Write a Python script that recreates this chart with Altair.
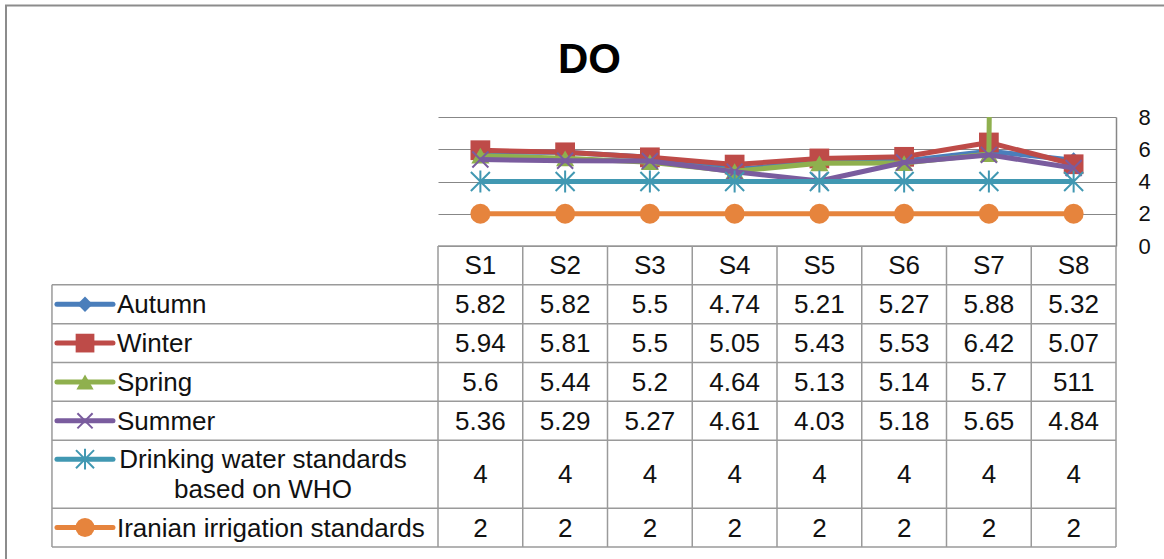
import altair as alt
import pandas as pd

# ---- data ----
sites = ["S1", "S2", "S3", "S4", "S5", "S6", "S7", "S8"]
autumn = [5.82, 5.82, 5.5, 4.74, 5.21, 5.27, 5.88, 5.32]
winter = [5.94, 5.81, 5.5, 5.05, 5.43, 5.53, 6.42, 5.07]
spring = [5.6, 5.44, 5.2, 4.64, 5.13, 5.14, 5.7, 511]
summer = [5.36, 5.29, 5.27, 4.61, 4.03, 5.18, 5.65, 4.84]
who_drinking = [4, 4, 4, 4, 4, 4, 4, 4]
iran_irrigation = [2, 2, 2, 2, 2, 2, 2, 2]
y_ticks = [0, 2, 4, 6, 8]

series_keys = ["autumn", "winter", "spring", "summer", "who", "iran"]
series_labels = ["Autumn", "Winter", "Spring", "Summer",
                 "Drinking water standards\nbased on WHO",
                 "Iranian irrigation standards"]
series_values = [autumn, winter, spring, summer, who_drinking, iran_irrigation]

# ---- styling ----
FONT = "Liberation Sans, Arial, sans-serif"
TABLE_FONT_SIZE = 26
AXIS_FONT_SIZE = 22
LINE_HEIGHT = 30
X_SHAPE = "M-1,-1L1,1M-1,1L1,-1"
STAR_SHAPE = "M-1,-1L1,1M-1,1L1,-1M0,-1.15L0,1.15"
styles = {
    "autumn": dict(color="#4A7EBB", shape="diamond", filled=True, size=260, sw=1),
    "winter": dict(color="#BE4B48", shape="square", filled=True, size=390, sw=1),
    "spring": dict(color="#8FB04E", shape="triangle-up", filled=True, size=330, sw=1),
    "summer": dict(color="#7A5C9E", shape=X_SHAPE, filled=False, size=256, sw=2),
    "who":    dict(color="#4198B2", shape=STAR_SHAPE, filled=False, size=361, sw=2),
    "iran":   dict(color="#E6843D", shape="circle", filled=True, size=400, sw=1),
}
LEGEND_SCALE = 0.9
GRID = "#878787"
TABLE_LINE = "#9a9a9a"

# plot area (in px) and column units
W, H = 678, 129
TABLE_BOTTOM = 430
n_cols = len(sites)

# table rows: header + one per series (relative heights)
row_heights = [1, 1, 1, 1, 1, 1.75, 1]
row_tops = [sum(row_heights[:i]) for i in range(len(row_heights))]
table_total = sum(row_heights)
px_per_row = (TABLE_BOTTOM - H) / table_total
legend_left = -4.555          # left edge of the label column, in column units
sym_x1, sym_x2, sym_xm = -4.496, -3.835, -4.165
label_x = -3.788
label_center_x = -2.065

x_scale = alt.Scale(domain=[0, n_cols], nice=False, zero=False)
y_scale = alt.Scale(domain=[0, 8], nice=False, zero=False)
ty_scale = alt.Scale(domain=[0, table_total], range=[H, TABLE_BOTTOM], nice=False, zero=False)

# ---- long table of the plotted values ----
rows = []
for key, vals in zip(series_keys, series_values):
    for i, v in enumerate(vals):
        rows.append({"key": key, "x": i + 0.5, "value": v})
values_df = pd.DataFrame(rows)

# ---- line chart layers (series drawn in order, markers with each) ----
x_enc = alt.X("x:Q", scale=x_scale, axis=None)
y_enc = alt.Y(
    "value:Q", scale=y_scale,
    axis=alt.Axis(orient="right", values=y_ticks, grid=True, gridColor=GRID,
                  gridWidth=1.2, domainColor=GRID, domainWidth=1.5, ticks=False,
                  labelPadding=22, labelFontSize=AXIS_FONT_SIZE, labelFont=FONT,
                  labelColor="#111", title=None),
)
line_layers = []
for key in series_keys:
    st = styles[key]
    base = alt.Chart(values_df).transform_filter(alt.datum.key == key)
    line_layers.append(
        base.mark_line(clip=True, strokeWidth=5, color=st["color"], strokeJoin="round")
        .encode(x=x_enc, y=y_enc)
    )
    line_layers.append(
        base.mark_point(clip=True, shape=st["shape"], filled=st["filled"],
                        size=st["size"], color=st["color"], strokeWidth=st["sw"],
                        opacity=1)
        .encode(x=x_enc, y=y_enc)
    )
lines_group = alt.layer(*line_layers)

# ---- data table ----
rule_rows = []
rule_rows.append({"x": 0, "x2": n_cols, "ty": 0, "ty2": 0})
for t in row_tops[1:] + [table_total]:
    rule_rows.append({"x": legend_left, "x2": n_cols, "ty": t, "ty2": t})
for c in range(n_cols + 1):
    rule_rows.append({"x": c, "x2": c, "ty": 0, "ty2": table_total})
rule_rows.append({"x": legend_left, "x2": legend_left, "ty": 1, "ty2": table_total})
rules_df = pd.DataFrame(rule_rows)

tx = alt.X("x:Q", scale=x_scale, axis=None)
ty = alt.Y("ty:Q", scale=ty_scale, axis=None)

grid = alt.Chart(rules_df).mark_rule(color=TABLE_LINE, strokeWidth=1.5).encode(
    x=tx, x2="x2:Q", y=ty, y2="ty2:Q"
)

cell_rows = []
for i, s in enumerate(sites):
    cell_rows.append({"x": i + 0.5, "ty": row_heights[0] / 2, "text": s})
for k, vals in enumerate(series_values):
    r = k + 1
    yc = row_tops[r] + row_heights[r] / 2
    for i, v in enumerate(vals):
        cell_rows.append({"x": i + 0.5, "ty": yc, "text": "{:g}".format(v)})
cells_df = pd.DataFrame(cell_rows)
cells = alt.Chart(cells_df).mark_text(
    font=FONT, fontSize=TABLE_FONT_SIZE, color="#111", align="center",
    baseline="middle", dy=1
).encode(x=tx, y=ty, text="text:N")

label_rows = []
for k, (key, lab) in enumerate(zip(series_keys, series_labels)):
    r = k + 1
    yc = row_tops[r] + row_heights[r] / 2
    multi = "\n" in lab
    # the key symbol sits on the first text line
    sy = yc - (LINE_HEIGHT / 2) / px_per_row if multi else yc
    label_rows.append({"key": key, "label": lab, "ty": yc, "sy": sy,
                       "multi": multi,
                       "x": label_center_x if multi else label_x,
                       "sx1": sym_x1, "sx2": sym_x2, "sxm": sym_xm})
labels_df = pd.DataFrame(label_rows)

labels_left = alt.Chart(labels_df).transform_filter("!datum.multi").mark_text(
    font=FONT, fontSize=TABLE_FONT_SIZE, color="#111", align="left",
    baseline="middle", dy=1
).encode(x=tx, y=ty, text="label:N")
labels_center = alt.Chart(labels_df).transform_filter("datum.multi").mark_text(
    font=FONT, fontSize=TABLE_FONT_SIZE, color="#111", align="center",
    baseline="middle", lineBreak="\n", lineHeight=LINE_HEIGHT,
    dy=1 - LINE_HEIGHT / 2
).encode(x=tx, y=ty, text="label:N")

sy_enc = alt.Y("sy:Q", scale=ty_scale, axis=None)
legend_layers = []
for key in series_keys:
    st = styles[key]
    base = alt.Chart(labels_df).transform_filter(alt.datum.key == key)
    legend_layers.append(
        base.mark_rule(color=st["color"], strokeWidth=5, strokeCap="round").encode(
            x=alt.X("sx1:Q", scale=x_scale, axis=None), x2="sx2:Q", y=sy_enc
        )
    )
    legend_layers.append(
        base.mark_point(shape=st["shape"], filled=st["filled"],
                        size=st["size"] * LEGEND_SCALE,
                        color=st["color"], strokeWidth=st["sw"], opacity=1).encode(
            x=alt.X("sxm:Q", scale=x_scale, axis=None), y=sy_enc
        )
    )

# frame and title
one = pd.DataFrame({"t": ["DO"]})
frame = alt.Chart(one).mark_rect(fillOpacity=0, stroke="#8c8c8c", strokeWidth=2).encode(
    x=alt.value(-432), x2=alt.value(740), y=alt.value(-111.5), y2=alt.value(470)
)
title = alt.Chart(one).mark_text(
    font=FONT, fontSize=42, fontWeight="bold", color="#000",
    align="center", baseline="alphabetic"
).encode(x=alt.value(151.5), y=alt.value(-44), text="t:N")

table_group = alt.layer(frame, title, grid, cells, labels_left, labels_center, *legend_layers)

chart = (
    alt.layer(table_group, lines_group)
    .resolve_scale(y="independent")
    .properties(
        width=W, height=H,
        padding={"left": 438, "top": 117, "right": 48, "bottom": 313},
        autosize=alt.AutoSizeParams(type="none"),
        background="white",
    )
    .configure_view(stroke=None)
    .configure_axis(labelFontSize=AXIS_FONT_SIZE, labelFont=FONT, labelColor="#111")
)

chart.save("out.html", embed_options={"renderer": "svg", "actions": False})
